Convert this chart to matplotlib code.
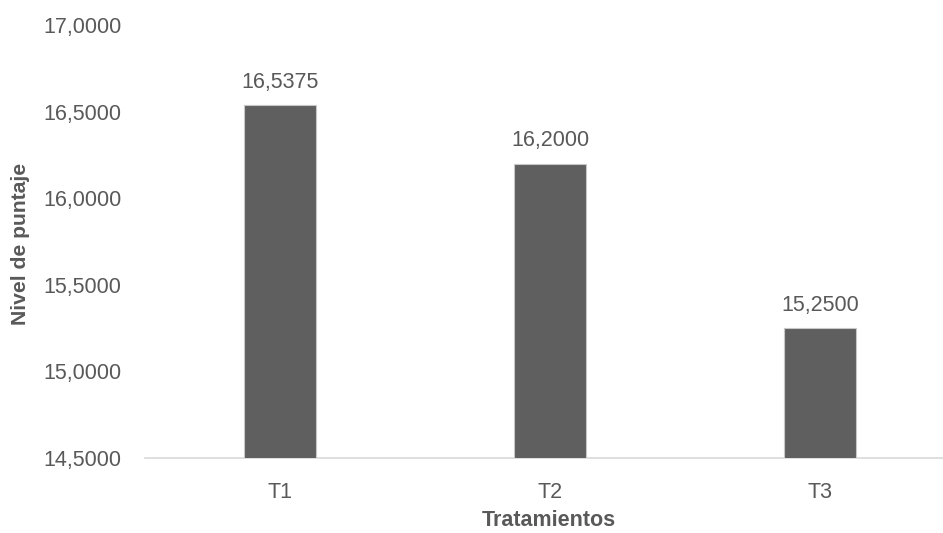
import matplotlib
matplotlib.use("Agg")
import matplotlib.pyplot as plt
from matplotlib.ticker import FuncFormatter

categories = ["T1", "T2", "T3"]
values = [16.5375, 16.2000, 15.2500]
y_ticks = [14.5, 15.0, 15.5, 16.0, 16.5, 17.0]

W, H = 943, 533
fig = plt.figure(figsize=(W / 100, H / 100), dpi=100)
plt.rcParams['font.family'] = ['Liberation Sans', 'DejaVu Sans']
txt = '#595959'
fs = 15.5

left, right = 145, 955
bottom, top = 458, 25
ax = fig.add_axes([left / W, 1 - bottom / H, (right - left) / W, (bottom - top) / H])

x = list(range(len(categories)))
bars = ax.bar(x, values, width=0.27, color='#5f5f5f', edgecolor='#c8c8c8', linewidth=0.8, zorder=3)
ax.set_xlim(-0.5, 2.5)
ax.set_ylim(14.5, 17.0)
ax.set_yticks(y_ticks)
fmt = lambda v: f"{v:.4f}".replace('.', ',')
ax.yaxis.set_major_formatter(FuncFormatter(lambda v, p: fmt(v)))
ax.set_xticks(x)
ax.set_xticklabels(categories)

for s in ['top', 'right', 'left']:
    ax.spines[s].set_visible(False)
ax.spines['bottom'].set_color('#d9d9d9')
ax.spines['bottom'].set_linewidth(1.2)
ax.tick_params(axis='both', length=0, labelsize=fs, colors=txt)
ax.tick_params(axis='y', pad=17)
ax.tick_params(axis='x', pad=17)

for xi, v in zip(x, values):
    ax.annotate(fmt(v), (xi, v), xytext=(0, 9), textcoords='offset points',
                ha='center', va='bottom', fontsize=fs, color=txt)

fig.text(21 / W, 1 - 244 / H, 'Nivel de puntaje', rotation=90, ha='center', va='center',
         fontsize=15.2, fontweight='bold', color=txt)
fig.text(549 / W, 1 - 531 / H, 'Tratamientos', ha='center', va='bottom',
         fontsize=15.5, fontweight='bold', color=txt)

fig.savefig('out.png', dpi=100)
